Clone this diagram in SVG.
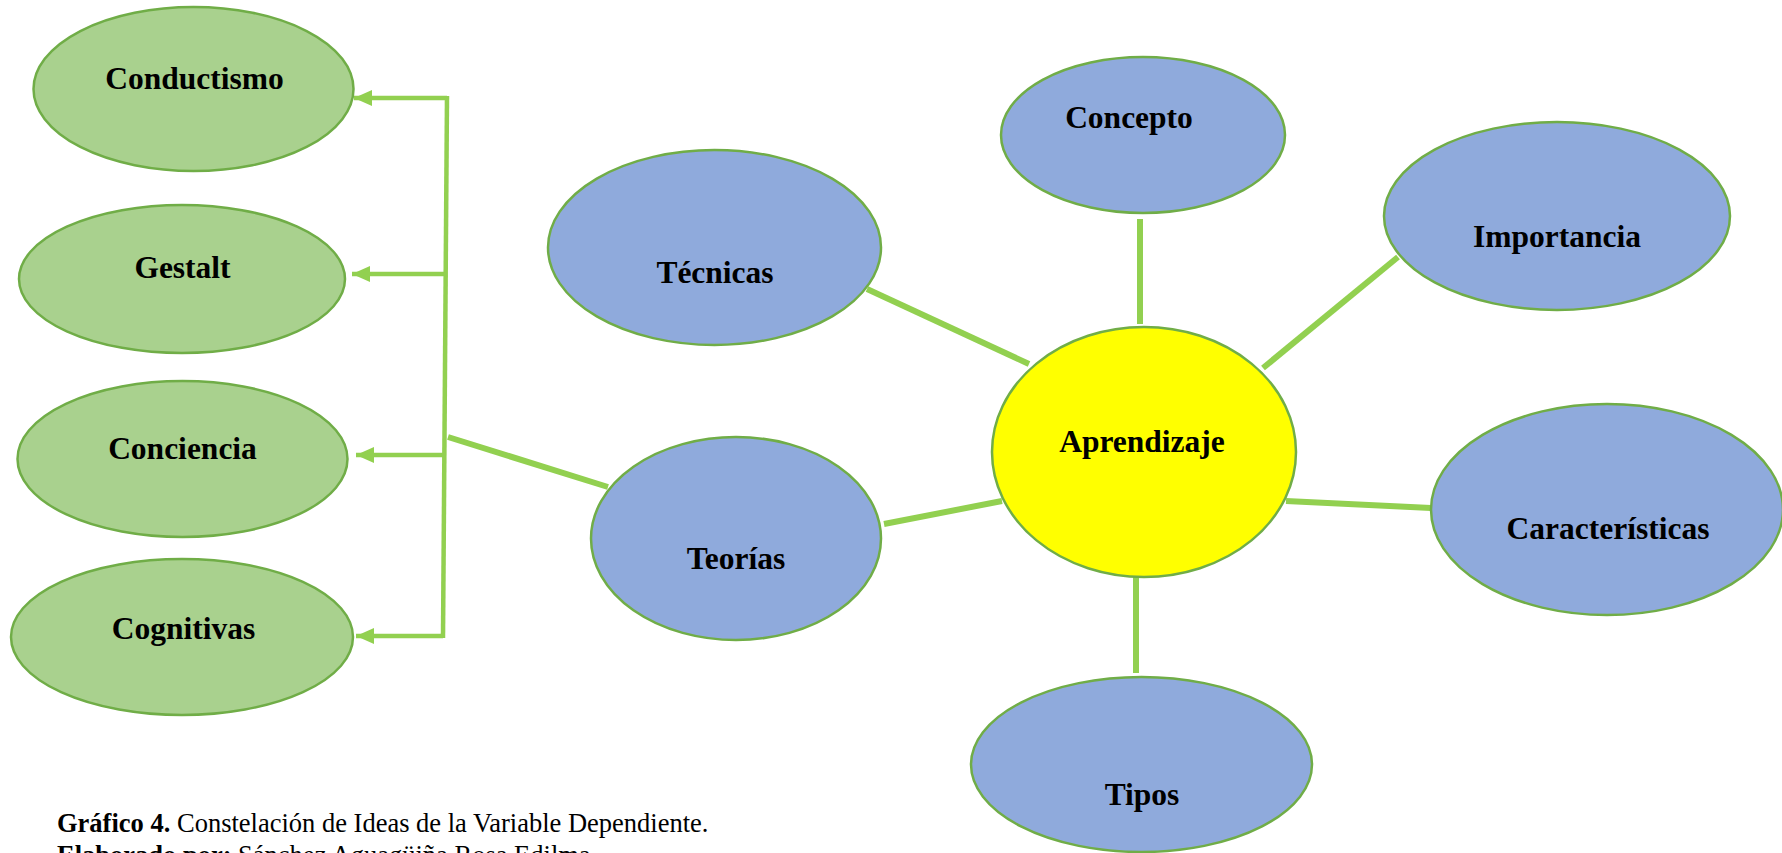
<svg xmlns="http://www.w3.org/2000/svg" width="1782" height="853" viewBox="0 0 1782 853">
<defs>
<style>
.green{fill:#A9D18E;stroke:#70AD47;stroke-width:2.5}
.blue{fill:#8FAADC;stroke:#70AD47;stroke-width:2.5}
.yellow{fill:#FFFF00;stroke:#70AD47;stroke-width:2.5}
.lbl{font-family:"Liberation Serif","Times New Roman",serif;font-weight:bold;font-size:31.5px;fill:#000;text-anchor:middle}
.conn{stroke:#92D050;stroke-width:6;fill:none}
.br{stroke:#92D050;stroke-width:4.5;fill:none}
.cap{font-family:"Liberation Serif","Times New Roman",serif;font-size:26.5px;fill:#000}
</style>
<marker id="arr" markerUnits="userSpaceOnUse" markerWidth="20" markerHeight="18" refX="18" refY="8" orient="auto">
<path d="M0,0 L18,8 L0,16 Z" fill="#92D050"/>
</marker>
</defs>
<rect width="1782" height="853" fill="#fff"/>
<g id="connectors">
<line class="conn" x1="867" y1="289" x2="1029" y2="364"/>
<line class="conn" x1="1140" y1="219" x2="1140" y2="324"/>
<line class="conn" x1="1398" y1="257" x2="1263" y2="368"/>
<line class="conn" x1="1286" y1="501" x2="1431" y2="508"/>
<line class="conn" x1="1136" y1="577" x2="1136" y2="673"/>
<line class="conn" x1="884" y1="524" x2="1002" y2="501"/>
<line class="conn" x1="448" y1="437" x2="608" y2="487"/>
<line class="br" x1="447" y1="96" x2="443" y2="638" stroke-width="5.5"/>
<line class="br" x1="447" y1="98" x2="354" y2="98" marker-end="url(#arr)"/>
<line class="br" x1="446" y1="274" x2="352" y2="274" marker-end="url(#arr)"/>
<line class="br" x1="444" y1="455" x2="356" y2="455" marker-end="url(#arr)"/>
<line class="br" x1="443" y1="636" x2="356" y2="636" marker-end="url(#arr)"/>
</g>
<g id="conductismo"><ellipse class="green" cx="193.5" cy="89" rx="160" ry="82"/><text class="lbl" x="194.5" y="89">Conductismo</text></g>
<g id="gestalt"><ellipse class="green" cx="182" cy="279" rx="163" ry="74"/><text class="lbl" x="182.5" y="278">Gestalt</text></g>
<g id="conciencia"><ellipse class="green" cx="182.5" cy="459" rx="165" ry="78"/><text class="lbl" x="182.5" y="459">Conciencia</text></g>
<g id="cognitivas"><ellipse class="green" cx="182" cy="637" rx="171" ry="78"/><text class="lbl" x="183.5" y="639">Cognitivas</text></g>
<g id="tecnicas"><ellipse class="blue" cx="714.5" cy="247.5" rx="166.5" ry="97.5"/><text class="lbl" x="715" y="283">Técnicas</text></g>
<g id="teorias"><ellipse class="blue" cx="736" cy="538.5" rx="145" ry="101.5"/><text class="lbl" x="736" y="569">Teorías</text></g>
<g id="concepto"><ellipse class="blue" cx="1143" cy="135" rx="142" ry="78"/><text class="lbl" x="1129" y="128">Concepto</text></g>
<g id="importancia"><ellipse class="blue" cx="1557" cy="216" rx="173" ry="94"/><text class="lbl" x="1557" y="247">Importancia</text></g>
<g id="caracteristicas"><ellipse class="blue" cx="1607" cy="509.5" rx="176" ry="105.5"/><text class="lbl" x="1608" y="539">Características</text></g>
<g id="tipos"><ellipse class="blue" cx="1141.5" cy="764.5" rx="170.5" ry="87.5"/><text class="lbl" x="1142" y="805">Tipos</text></g>
<g id="aprendizaje"><ellipse class="yellow" cx="1144" cy="452" rx="152" ry="125"/><text class="lbl" x="1142" y="452">Aprendizaje</text></g>
<g id="caption">
<text class="cap" x="57" y="832"><tspan font-weight="bold">Gráfico 4.</tspan> Constelación de Ideas de la Variable Dependiente.</text>
<text class="cap" x="57" y="864"><tspan font-weight="bold">Elaborado por:</tspan> Sánchez Aguagüiña Rosa Edilma</text>
</g>
</svg>
